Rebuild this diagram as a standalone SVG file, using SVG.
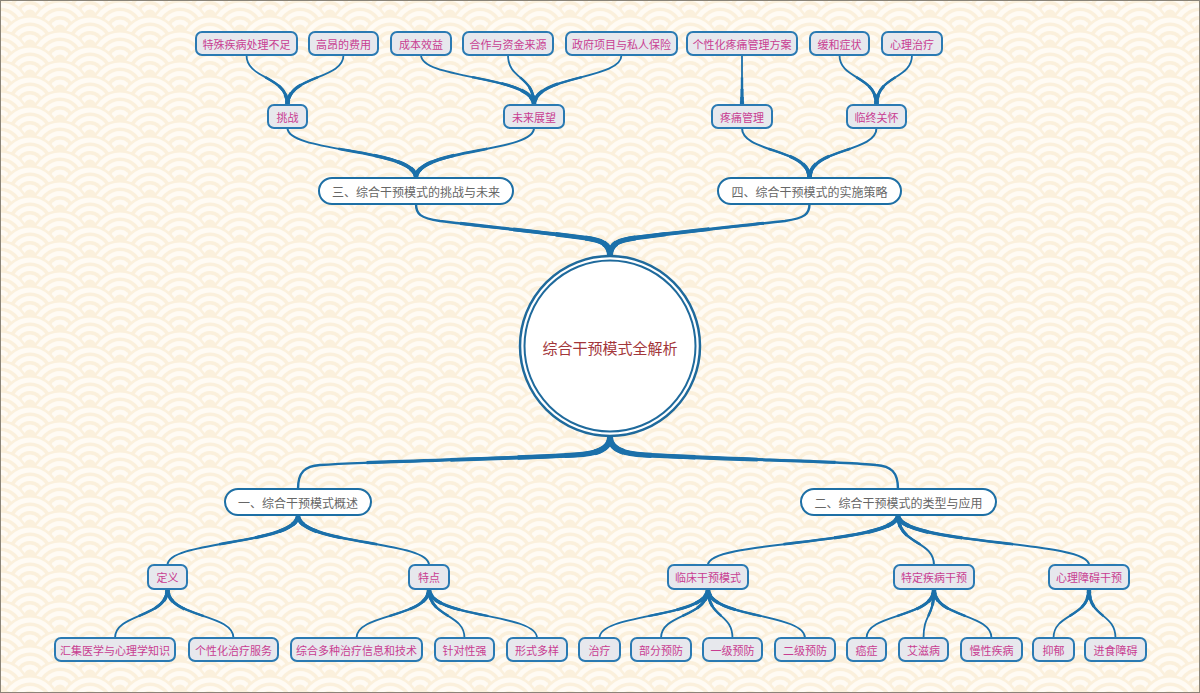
<svg xmlns="http://www.w3.org/2000/svg" xmlns:xlink="http://www.w3.org/1999/xlink" width="1200" height="693" viewBox="0 0 1200 693">
<style>
text{font-family:"Noto Sans CJK SC","Noto Sans",sans-serif;text-anchor:middle;dominant-baseline:central}
.n1 rect{fill:#fff;stroke:#1d6fa5;stroke-width:2}
.n1 text{font-size:12px;fill:#666}
.n2 rect,.n3 rect{fill:#e7e8ed;stroke:#2a7ab3;stroke-width:2}
.n2 text,.n3 text{font-size:11px;fill:#c93d91}
.root text{font-size:15px;fill:#a3363a}
#connectors{fill:none;stroke:#1b70aa;stroke-linecap:butt}
.m0{stroke-width:2.4;stroke-linecap:round}
.m1{stroke-width:3.1;stroke-dasharray:75 200}
.m2{stroke-width:3.8;stroke-dasharray:50 200}
.m3{stroke-width:4.5;stroke-dasharray:30 200}
.m4{stroke-width:5.2;stroke-dasharray:16 200}
.m5{stroke-width:6;stroke-dasharray:7 200}
.d0{stroke-width:2;stroke-linecap:round}
.d1{stroke-width:2.6;stroke-dasharray:60 200}
.d2{stroke-width:3.2;stroke-dasharray:35 200}
.d3{stroke-width:3.8;stroke-dasharray:18 200}
.d4{stroke-width:4.4;stroke-dasharray:8 200}
.l0{stroke-width:1.8;stroke-linecap:round}
.l1{stroke-width:2.4;stroke-dasharray:55 200}
.l2{stroke-width:3;stroke-dasharray:32 200}
.l3{stroke-width:3.6;stroke-dasharray:16 200}
.l4{stroke-width:4.2;stroke-dasharray:7 200}
</style>
<defs>
<g id="wv">
<circle r="30" fill="#fbf0dc"/>
<circle r="27.5" fill="#fffbf4"/>
<circle r="22.5" fill="#fbf0dc"/>
<circle r="19" fill="#fffbf4"/>
<circle r="14" fill="#fbf0dc"/>
<circle r="10.5" fill="#fffbf4"/>
<circle r="5.5" fill="#fbf0dc"/>
</g>
<pattern id="sea" width="60" height="30" patternUnits="userSpaceOnUse">
<rect width="60" height="30" fill="#fffbf4"/>
<use href="#wv" x="30" y="-15"/>
<use href="#wv" x="0" y="0"/><use href="#wv" x="60" y="0"/>
<use href="#wv" x="30" y="15"/>
<use href="#wv" x="0" y="30"/><use href="#wv" x="60" y="30"/>
<use href="#wv" x="30" y="45"/>
</pattern>
</defs>
<rect width="1200" height="693" fill="url(#sea)"/>
<rect x="0.5" y="0.5" width="1199" height="692" fill="none" stroke="#8a8478" stroke-width="1"/>

<g id="connectors">
<g class="m0"><g id="cMain">
<path pathLength="100" d="M610 256 C610 243 600 240 585 238 C540 232 480 226 440 221 C420 218 416 214 416 204"/>
<path pathLength="100" d="M610 256 C610 243 620 240 635 238 C680 232 740 226 785 221 C805 218 809.5 214 809.5 204"/>
<path pathLength="100" d="M610 437 C610 450 595 454 575 455 C480 460 380 461 320 465 C305 466 298 472 298 489"/>
<path pathLength="100" d="M610 437 C610 450 625 454 645 455 C740 460 840 461 876 465 C891 466 898 472 898 489"/>
</g></g>
<use href="#cMain" class="m1"/>
<use href="#cMain" class="m2"/>
<use href="#cMain" class="m3"/>
<use href="#cMain" class="m4"/>
<use href="#cMain" class="m5"/>
<g class="d0"><g id="cMid">
<path pathLength="100" d="M416 178 C416 148 287.5 153 287.5 128"/>
<path pathLength="100" d="M416 178 C416 148 534 153 534 128"/>
<path pathLength="100" d="M809.5 178 C809.5 148 742 153 742 128"/>
<path pathLength="100" d="M809.5 178 C809.5 148 876.5 153 876.5 128"/>
<path pathLength="100" d="M298 515 C298 545 167.5 540 167.5 565"/>
<path pathLength="100" d="M298 515 C298 545 429 540 429 565"/>
<path pathLength="100" d="M898 515 C898 545 708 540 708 565"/>
<path pathLength="100" d="M898 515 C898 545 934 540 934 565"/>
<path pathLength="100" d="M898 515 C898 545 1089 540 1089 565"/>
</g></g>
<use href="#cMid" class="d1"/>
<use href="#cMid" class="d2"/>
<use href="#cMid" class="d3"/>
<use href="#cMid" class="d4"/>
<g class="l0"><g id="cLeaf">
<path pathLength="100" d="M287.5 105 C287.5 75 246.5 80 246.5 55"/>
<path pathLength="100" d="M287.5 105 C287.5 75 343.5 80 343.5 55"/>
<path pathLength="100" d="M534 105 C534 75 421 80 421 55"/>
<path pathLength="100" d="M534 105 C534 75 508 80 508 55"/>
<path pathLength="100" d="M534 105 C534 75 621.5 80 621.5 55"/>
<path pathLength="100" d="M742 105 C742 75 742 80 742 55"/>
<path pathLength="100" d="M876.5 105 C876.5 75 839.5 80 839.5 55"/>
<path pathLength="100" d="M876.5 105 C876.5 75 912 80 912 55"/>
<path pathLength="100" d="M167.5 589 C167.5 618 115 613 115 638"/>
<path pathLength="100" d="M167.5 589 C167.5 618 233.5 613 233.5 638"/>
<path pathLength="100" d="M429 589 C429 618 356.5 613 356.5 638"/>
<path pathLength="100" d="M429 589 C429 618 464.5 613 464.5 638"/>
<path pathLength="100" d="M429 589 C429 618 537 613 537 638"/>
<path pathLength="100" d="M708 589 C708 618 599.5 613 599.5 638"/>
<path pathLength="100" d="M708 589 C708 618 661 613 661 638"/>
<path pathLength="100" d="M708 589 C708 618 732.5 613 732.5 638"/>
<path pathLength="100" d="M708 589 C708 618 805 613 805 638"/>
<path pathLength="100" d="M934 589 C934 618 866.5 613 866.5 638"/>
<path pathLength="100" d="M934 589 C934 618 923.5 613 923.5 638"/>
<path pathLength="100" d="M934 589 C934 618 991.5 613 991.5 638"/>
<path pathLength="100" d="M1089 589 C1089 618 1053.5 613 1053.5 638"/>
<path pathLength="100" d="M1089 589 C1089 618 1115.5 613 1115.5 638"/>
</g></g>
<use href="#cLeaf" class="l1"/>
<use href="#cLeaf" class="l2"/>
<use href="#cLeaf" class="l3"/>
<use href="#cLeaf" class="l4"/>
</g>

<g id="root" class="root">
<circle cx="610" cy="346" r="90" fill="#fff" stroke="#1f6a9c" stroke-width="2.5"/>
<circle cx="610" cy="346" r="85.5" fill="none" stroke="#1f6a9c" stroke-width="2"/>
<text x="610" y="347">综合干预模式全解析</text>
</g>

<g id="n-san" class="n1"><rect x="319" y="178" width="194" height="26" rx="13"/><text x="416" y="191">三、综合干预模式的挑战与未来</text></g>
<g id="n-si" class="n1"><rect x="718" y="178" width="183" height="26" rx="13"/><text x="809.5" y="191">四、综合干预模式的实施策略</text></g>
<g id="n-yi" class="n1"><rect x="225" y="489" width="146" height="26" rx="13"/><text x="298" y="502">一、综合干预模式概述</text></g>
<g id="n-er" class="n1"><rect x="801" y="489" width="195" height="26" rx="13"/><text x="898.5" y="502">二、综合干预模式的类型与应用</text></g>

<g id="n-tiaozhan" class="n2"><rect x="268" y="105" width="39" height="23" rx="6"/><text x="287.5" y="116.5">挑战</text></g>
<g id="n-weilai" class="n2"><rect x="504" y="105" width="60" height="23" rx="6"/><text x="534" y="116.5">未来展望</text></g>
<g id="n-tengtong" class="n2"><rect x="712" y="105" width="60" height="23" rx="6"/><text x="742" y="116.5">疼痛管理</text></g>
<g id="n-linzhong" class="n2"><rect x="847" y="105" width="59" height="23" rx="6"/><text x="876.5" y="116.5">临终关怀</text></g>
<g id="n-dingyi" class="n2"><rect x="148" y="565" width="39" height="24" rx="6"/><text x="167.5" y="577">定义</text></g>
<g id="n-tedian" class="n2"><rect x="409" y="565" width="40" height="24" rx="6"/><text x="429" y="577">特点</text></g>
<g id="n-linchuang" class="n2"><rect x="668" y="565" width="80" height="24" rx="6"/><text x="708" y="577">临床干预模式</text></g>
<g id="n-teding" class="n2"><rect x="894" y="565" width="80" height="24" rx="6"/><text x="934" y="577">特定疾病干预</text></g>
<g id="n-xinli" class="n2"><rect x="1049" y="565" width="80" height="24" rx="6"/><text x="1089" y="577">心理障碍干预</text></g>

<g id="l1" class="n3"><rect x="196" y="32" width="101" height="23" rx="6"/><text x="246.5" y="43.5">特殊疾病处理不足</text></g>
<g id="l2" class="n3"><rect x="309" y="32" width="69" height="23" rx="6"/><text x="343.5" y="43.5">高昂的费用</text></g>
<g id="l3" class="n3"><rect x="391" y="32" width="60" height="23" rx="6"/><text x="421" y="43.5">成本效益</text></g>
<g id="l4" class="n3"><rect x="463" y="32" width="90" height="23" rx="6"/><text x="508" y="43.5">合作与资金来源</text></g>
<g id="l5" class="n3"><rect x="566" y="32" width="111" height="23" rx="6"/><text x="621.5" y="43.5">政府项目与私人保险</text></g>
<g id="l6" class="n3"><rect x="687" y="32" width="110" height="23" rx="6"/><text x="742" y="43.5">个性化疼痛管理方案</text></g>
<g id="l7" class="n3"><rect x="810" y="32" width="59" height="23" rx="6"/><text x="839.5" y="43.5">缓和症状</text></g>
<g id="l8" class="n3"><rect x="882" y="32" width="60" height="23" rx="6"/><text x="912" y="43.5">心理治疗</text></g>

<g id="l9" class="n3"><rect x="55" y="638" width="120" height="23" rx="6"/><text x="115" y="649.5">汇集医学与心理学知识</text></g>
<g id="l10" class="n3"><rect x="189" y="638" width="89" height="23" rx="6"/><text x="233.5" y="649.5">个性化治疗服务</text></g>
<g id="l11" class="n3"><rect x="291" y="638" width="131" height="23" rx="6"/><text x="356.5" y="649.5">综合多种治疗信息和技术</text></g>
<g id="l12" class="n3"><rect x="435" y="638" width="59" height="23" rx="6"/><text x="464.5" y="649.5">针对性强</text></g>
<g id="l13" class="n3"><rect x="507" y="638" width="60" height="23" rx="6"/><text x="537" y="649.5">形式多样</text></g>
<g id="l14" class="n3"><rect x="579" y="638" width="41" height="23" rx="6"/><text x="599.5" y="649.5">治疗</text></g>
<g id="l15" class="n3"><rect x="631" y="638" width="60" height="23" rx="6"/><text x="661" y="649.5">部分预防</text></g>
<g id="l16" class="n3"><rect x="703" y="638" width="59" height="23" rx="6"/><text x="732.5" y="649.5">一级预防</text></g>
<g id="l17" class="n3"><rect x="775" y="638" width="60" height="23" rx="6"/><text x="805" y="649.5">二级预防</text></g>
<g id="l18" class="n3"><rect x="847" y="638" width="39" height="23" rx="6"/><text x="866.5" y="649.5">癌症</text></g>
<g id="l19" class="n3"><rect x="899" y="638" width="49" height="23" rx="6"/><text x="923.5" y="649.5">艾滋病</text></g>
<g id="l20" class="n3"><rect x="961" y="638" width="61" height="23" rx="6"/><text x="991.5" y="649.5">慢性疾病</text></g>
<g id="l21" class="n3"><rect x="1033" y="638" width="41" height="23" rx="6"/><text x="1053.5" y="649.5">抑郁</text></g>
<g id="l22" class="n3"><rect x="1085" y="638" width="61" height="23" rx="6"/><text x="1115.5" y="649.5">进食障碍</text></g>
</svg>
